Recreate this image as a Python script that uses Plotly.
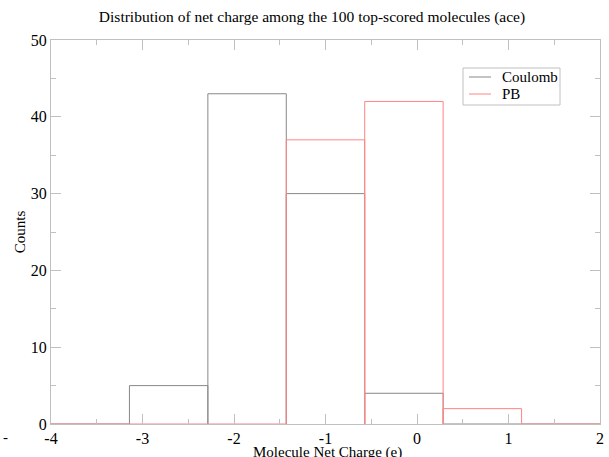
import plotly.graph_objects as go

title_text = "Distribution of net charge among the 100 top-scored molecules (ace)"
x_title = "Molecule Net Charge (e)"
y_title = "Counts"
bin_edges = [-4.0, -3.142857, -2.285714, -1.428571, -0.571429, 0.285714, 1.142857, 2.0]
coulomb_counts = [0, 5, 43, 30, 4, 0, 0]
pb_counts = [0, 0, 0, 37, 42, 2, 0]
series_names = ["Coulomb", "PB"]
series_colors = ["#888888", "#ff8585"]
x_tickvals = [-4, -3, -2, -1, 0, 1, 2]
x_ticktext = ["-4", "-3", "-2", "-1", "0", "1", "2"]
y_tickvals = [0, 10, 20, 30, 40, 50]

W, H = 609, 457
ML, MR, MT, MB = 51, 9, 40, 33
PW, PH = W - ML - MR, H - MT - MB


def outline(edges, counts):
    xs, ys = [edges[0]], [0]
    for i, c in enumerate(counts):
        x0, x1 = edges[i], edges[i + 1]
        xs += [x0, x1, x1]
        ys += [c, c, 0]
    return xs, ys


def px_x(p):
    return (p - ML) / PW


def px_y(p):
    return (H - MB - p) / PH


fig = go.Figure()
for name, counts, col in zip(series_names, [coulomb_counts, pb_counts], series_colors):
    xs, ys = outline(bin_edges, counts)
    fig.add_trace(go.Scatter(x=xs, y=ys, mode="lines", name=name, showlegend=False,
                             line=dict(color=col, width=1)))

serif = "Liberation Serif, Times New Roman, serif"
axis_common = dict(showgrid=False, zeroline=False, showline=True, linecolor="#c0c0c0",
                   linewidth=1, mirror="allticks", ticks="inside", tickcolor="#c0c0c0",
                   ticklen=10, tickwidth=1, automargin=False,
                   tickfont=dict(family=serif, size=16, color="black"))

# legend drawn as box + sample lines + labels
shapes = [dict(type="rect", xref="paper", yref="paper",
               x0=px_x(463), x1=px_x(560), y0=px_y(105), y1=px_y(68),
               line=dict(color="#c0c0c0", width=1), fillcolor="white", layer="above")]
annotations = []
for i, (name, col) in enumerate(zip(series_names, series_colors)):
    yy = 77 + 17 * i
    shapes.append(dict(type="line", xref="paper", yref="paper",
                       x0=px_x(469), x1=px_x(491), y0=px_y(yy), y1=px_y(yy),
                       line=dict(color=col, width=1), layer="above"))
    annotations.append(dict(text=name, xref="paper", yref="paper", x=px_x(500), y=px_y(yy),
                            xanchor="left", yanchor="middle", showarrow=False,
                            font=dict(family=serif, size=15, color="black")))
annotations.append(dict(text="-", xref="paper", yref="paper", x=px_x(5), y=px_y(437),
                        xanchor="center", yanchor="middle", showarrow=False,
                        font=dict(family=serif, size=15, color="black")))
annotations.append(dict(text=x_title, xref="paper", yref="paper", x=px_x(327), y=px_y(452),
                        xanchor="center", yanchor="middle", showarrow=False,
                        font=dict(family=serif, size=15, color="black")))

fig.update_layout(
    width=W, height=H,
    margin=dict(l=ML, r=MR, t=MT, b=MB),
    paper_bgcolor="white", plot_bgcolor="white",
    font=dict(family=serif, color="black"),
    title=dict(text=title_text, x=312 / W, xanchor="center", y=1 - 17 / H, yanchor="middle",
               yref="container", font=dict(family=serif, size=15.5, color="black")),
    showlegend=False,
    shapes=shapes,
    annotations=annotations,
)
fig.update_xaxes(range=[-4, 2.000001], tickvals=x_tickvals, ticktext=x_ticktext,
                 minor=dict(dtick=0.5, tick0=-4, ticklen=5, ticks="inside", tickcolor="#c0c0c0"),
                 **axis_common)
fig.update_yaxes(range=[0, 50.00001], tickvals=y_tickvals,
                 minor=dict(dtick=5, tick0=0, ticklen=5, ticks="inside", tickcolor="#c0c0c0"),
                 title=dict(text=y_title, standoff=1,
                            font=dict(family=serif, size=15, color="black")),
                 **axis_common)

fig.write_html("out.html", config={"displayModeBar": False},
               post_script="document.body.style.margin='0';")
